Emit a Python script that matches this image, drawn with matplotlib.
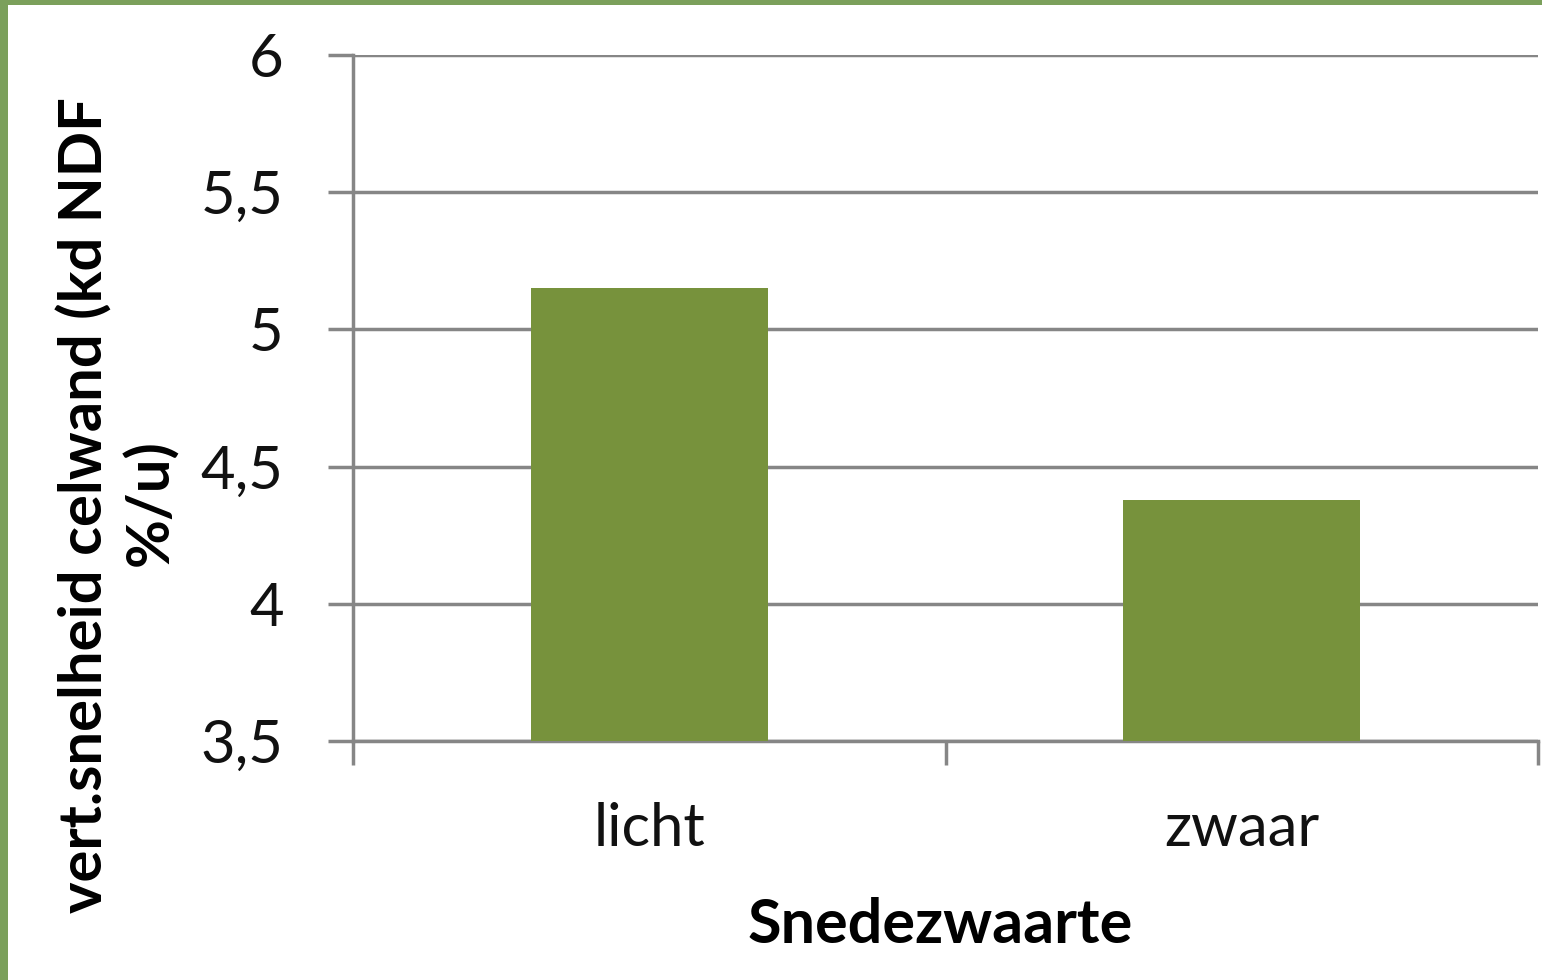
import matplotlib
matplotlib.use("Agg")
import matplotlib.pyplot as plt
from matplotlib.patches import Rectangle

categories = ["licht", "zwaar"]
values = [5.15, 4.38]
yticks = [3.5, 4, 4.5, 5, 5.5, 6]
ytick_labels = ["3,5", "4", "4,5", "5", "5,5", "6"]

W, H = 1542, 980
fig = plt.figure(figsize=(W / 100, H / 100), dpi=100)
fig.patch.set_facecolor("#7ba05b")
fig.add_artist(Rectangle((8 / W, 0), 1 - 8 / W, (H - 5) / H, transform=fig.transFigure,
                         facecolor="white", edgecolor="none", zorder=0))

ax = fig.add_axes([353 / W, 1 - 741 / H, (1538 - 353) / W, (741 - 55) / H])
ax.set_facecolor("none")
x = list(range(len(categories)))
ax.bar(x, values, width=0.4, color="#77923c", zorder=3)
ax.set_xlim(-0.5, len(categories) - 0.5)
ax.set_ylim(3.5, 6)
ax.set_yticks(yticks)
ax.set_yticklabels(ytick_labels)
ax.yaxis.grid(True, color="#868686", linewidth=2.5, zorder=1)
ax.set_axisbelow(True)
for s in ["top", "right"]:
    ax.spines[s].set_visible(False)
for s in ["left", "bottom"]:
    ax.spines[s].set_color("#868686")
    ax.spines[s].set_linewidth(2.5)

ax.set_xticks([-0.5, 0.5, 1.5], minor=False)
ax.set_xticklabels(["", "", ""])
ax.set_xticks(x, minor=True)
ax.set_xticklabels(categories, minor=True)
ax.tick_params(axis="x", which="major", length=17, width=2.5, color="#868686")
ax.tick_params(axis="x", which="minor", length=0, pad=44, labelsize=43)
ax.tick_params(axis="y", length=18, width=2.5, color="#868686", labelsize=43, pad=32)
for lab in ax.get_xticklabels(minor=True) + ax.get_yticklabels():
    lab.set_fontfamily("Lato")
    lab.set_color("#111111")

fig.text(940 / W, 1 - 925 / H, "Snedezwaarte", ha="center", va="center",
         fontsize=44, fontweight="bold", family="Lato")
fig.text(85 / W, 1 - 505 / H, "vert.snelheid celwand (kd NDF", ha="center", va="center",
         rotation=90, fontsize=43, fontweight="bold", family="Lato")
fig.text(150 / W, 1 - 503 / H, "%/u)", ha="center", va="center",
         rotation=90, fontsize=43, fontweight="bold", family="Lato")

fig.savefig("out.png", dpi=100)
